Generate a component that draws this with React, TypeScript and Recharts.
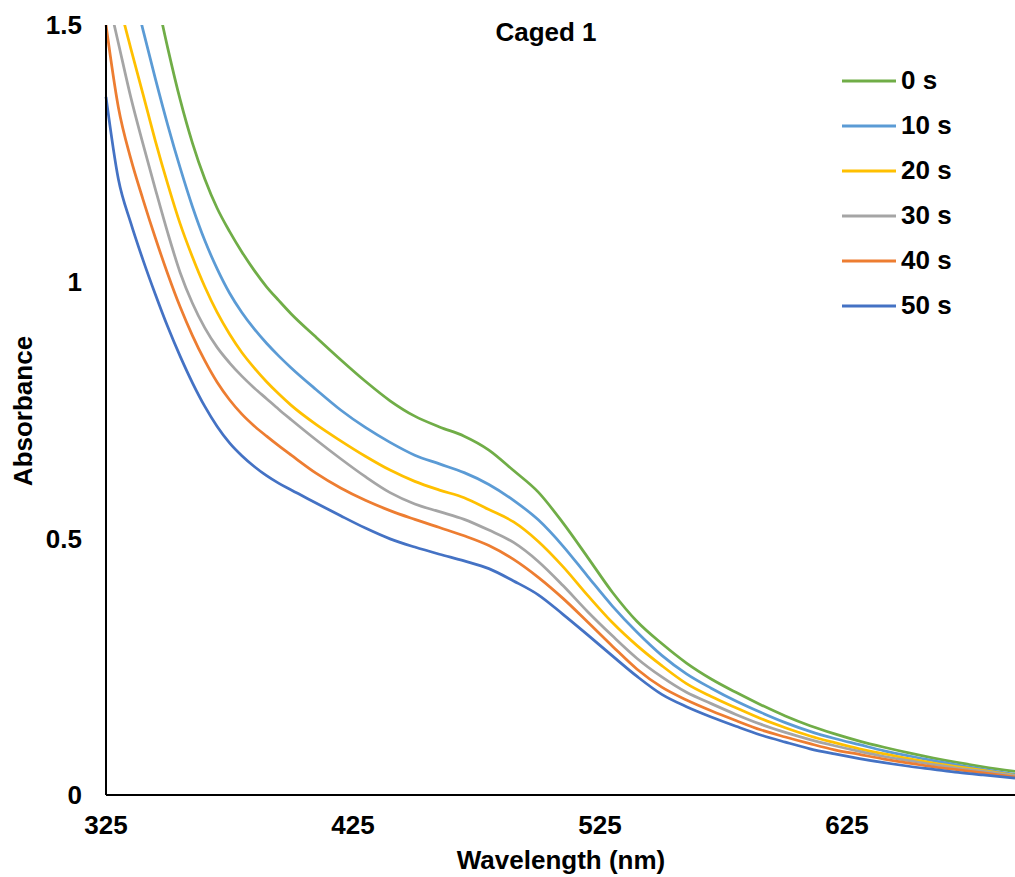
import { LineChart, Line, XAxis, YAxis, Legend } from 'recharts';

const wavelengths = [
  325, 330, 335, 340, 345, 350, 355, 360, 365, 370, 375, 380, 385, 390, 395, 400,
  410, 420, 430, 440, 450, 460, 470, 480, 490, 500, 510, 520, 530, 540, 550, 560,
  570, 580, 590, 600, 610, 620, 630, 640, 650, 660, 670, 680, 693,
];

const abs0s = [
  2.1, 1.93, 1.79, 1.675, 1.565, 1.455, 1.355, 1.27, 1.2, 1.143, 1.098, 1.058, 1.022, 0.99, 0.963, 0.937,
  0.892, 0.848, 0.806, 0.768, 0.738, 0.717, 0.699, 0.672, 0.632, 0.59, 0.53, 0.463, 0.395, 0.338, 0.295, 0.257,
  0.226, 0.2, 0.176, 0.154, 0.135, 0.119, 0.105, 0.093, 0.082, 0.072, 0.063, 0.055, 0.046,
];
const abs10s = [
  1.85, 1.7, 1.59, 1.49, 1.395, 1.305, 1.222, 1.146, 1.08, 1.025, 0.978, 0.94, 0.908, 0.88, 0.855, 0.832,
  0.79, 0.75, 0.716, 0.687, 0.662, 0.645, 0.628, 0.605, 0.574, 0.536, 0.485, 0.426, 0.368, 0.317, 0.272, 0.236,
  0.208, 0.183, 0.161, 0.141, 0.124, 0.11, 0.098, 0.086, 0.076, 0.067, 0.058, 0.05, 0.04,
];
const abs20s = [
  1.66, 1.55, 1.455, 1.365, 1.274, 1.19, 1.113, 1.048, 0.99, 0.94, 0.898, 0.862, 0.832, 0.805, 0.781, 0.759,
  0.722, 0.69, 0.66, 0.633, 0.611, 0.594, 0.579, 0.556, 0.532, 0.494, 0.445, 0.389, 0.336, 0.291, 0.252, 0.217,
  0.192, 0.17, 0.149, 0.131, 0.115, 0.102, 0.09, 0.08, 0.071, 0.062, 0.055, 0.048, 0.038,
];
const abs30s = [
  1.57, 1.465, 1.36, 1.268, 1.18, 1.095, 1.018, 0.958, 0.91, 0.872, 0.842, 0.816, 0.793, 0.772, 0.751, 0.731,
  0.692, 0.655, 0.62, 0.589, 0.567, 0.552, 0.537, 0.516, 0.492, 0.455, 0.408, 0.357, 0.31, 0.266, 0.23, 0.2,
  0.178, 0.157, 0.138, 0.122, 0.108, 0.096, 0.085, 0.075, 0.067, 0.059, 0.052, 0.046, 0.037,
];
const abs40s = [
  1.5, 1.34, 1.24, 1.16, 1.085, 1.015, 0.951, 0.895, 0.846, 0.804, 0.77, 0.742, 0.719, 0.699, 0.68, 0.662,
  0.627, 0.598, 0.574, 0.554, 0.537, 0.521, 0.505, 0.486, 0.459, 0.424, 0.383, 0.337, 0.29, 0.245, 0.21, 0.185,
  0.164, 0.145, 0.127, 0.113, 0.1, 0.088, 0.079, 0.07, 0.062, 0.055, 0.049, 0.043, 0.035,
];
const abs50s = [
  1.36, 1.2, 1.115, 1.042, 0.975, 0.912, 0.855, 0.803, 0.757, 0.718, 0.686, 0.661, 0.64, 0.622, 0.607, 0.594,
  0.569, 0.544, 0.52, 0.499, 0.483, 0.469, 0.456, 0.441, 0.417, 0.39, 0.352, 0.312, 0.271, 0.231, 0.196, 0.172,
  0.152, 0.134, 0.117, 0.103, 0.09, 0.08, 0.071, 0.063, 0.056, 0.05, 0.044, 0.039, 0.033,
];

const seriesNames = ['0 s', '10 s', '20 s', '30 s', '40 s', '50 s'];
const seriesValues = [abs0s, abs10s, abs20s, abs30s, abs40s, abs50s];
const seriesColors = ['#70AD47', '#5B9BD5', '#FFC000', '#A5A5A5', '#ED7D31', '#4472C4'];

const xTicks = [325, 425, 525, 625];
const yTicks = [0, 0.5, 1, 1.5];

const data = wavelengths.map((nm, i) => {
  const row: Record<string, number> = { nm };
  seriesNames.forEach((name, s) => {
    row[name] = seriesValues[s][i];
  });
  return row;
});

const font = '"Liberation Sans", Arial, sans-serif';
const tickStyle = { fontSize: 26, fontWeight: 700, fill: '#000', fontFamily: font };

function LegendBox({ payload }: any) {
  return (
    <div style={{ fontFamily: font }}>
      {(payload || []).map((p: any) => (
        <div key={p.value} style={{ display: 'flex', alignItems: 'center', height: 45 }}>
          <svg width={54} height={6} style={{ display: 'block' }}>
            <line x1={0} y1={3} x2={54} y2={3} stroke={p.color} strokeWidth={3} />
          </svg>
          <span style={{ marginLeft: 5, fontSize: 26, fontWeight: 700, color: '#000' }}>{p.value}</span>
        </div>
      ))}
    </div>
  );
}

export default function App() {
  return (
    <div style={{ position: 'absolute', left: 0, top: 0, width: 1015, height: 877, background: '#fff', fontFamily: font }}>
      <LineChart width={1015} height={877} data={data} margin={{ top: 25, right: 0, bottom: 0, left: 0 }}>
        <XAxis
          dataKey="nm"
          type="number"
          domain={[325, 693]}
          ticks={xTicks}
          height={82}
          tickSize={0}
          tickMargin={21}
          tickLine={false}
          axisLine={{ stroke: '#000', strokeWidth: 2 }}
          tick={tickStyle}
        />
        <YAxis
          type="number"
          domain={[0, 1.5]}
          ticks={yTicks}
          allowDataOverflow
          width={106}
          tickSize={0}
          tickMargin={24}
          tickLine={false}
          axisLine={{ stroke: '#000', strokeWidth: 2 }}
          tick={tickStyle}
          tickFormatter={(v: number) => String(v)}
        />
        <Legend
          layout="horizontal"
          verticalAlign="middle"
          align="center"
          content={<LegendBox />}
          wrapperStyle={{ top: 58, left: 842, width: 170 }}
        />
        {seriesNames.map((name, s) => (
          <Line
            key={name}
            dataKey={name}
            name={name}
            type="monotone"
            stroke={seriesColors[s]}
            strokeWidth={2.75}
            dot={false}
            activeDot={false}
            isAnimationActive={false}
          />
        ))}
      </LineChart>
      <svg
        width={1015}
        height={877}
        style={{ position: 'absolute', left: 0, top: 0, pointerEvents: 'none' }}
        fontFamily={font}
        fontWeight={700}
        fontSize={26}
      >
        <text x={546} y={32} textAnchor="middle" dy="0.35em">Caged 1</text>
        <text x={561} y={860} textAnchor="middle" dy="0.35em">Wavelength (nm)</text>
        <text x={23} y={411} textAnchor="middle" dy="0.35em" transform="rotate(-90 23 411)">Absorbance</text>
      </svg>
    </div>
  );
}
